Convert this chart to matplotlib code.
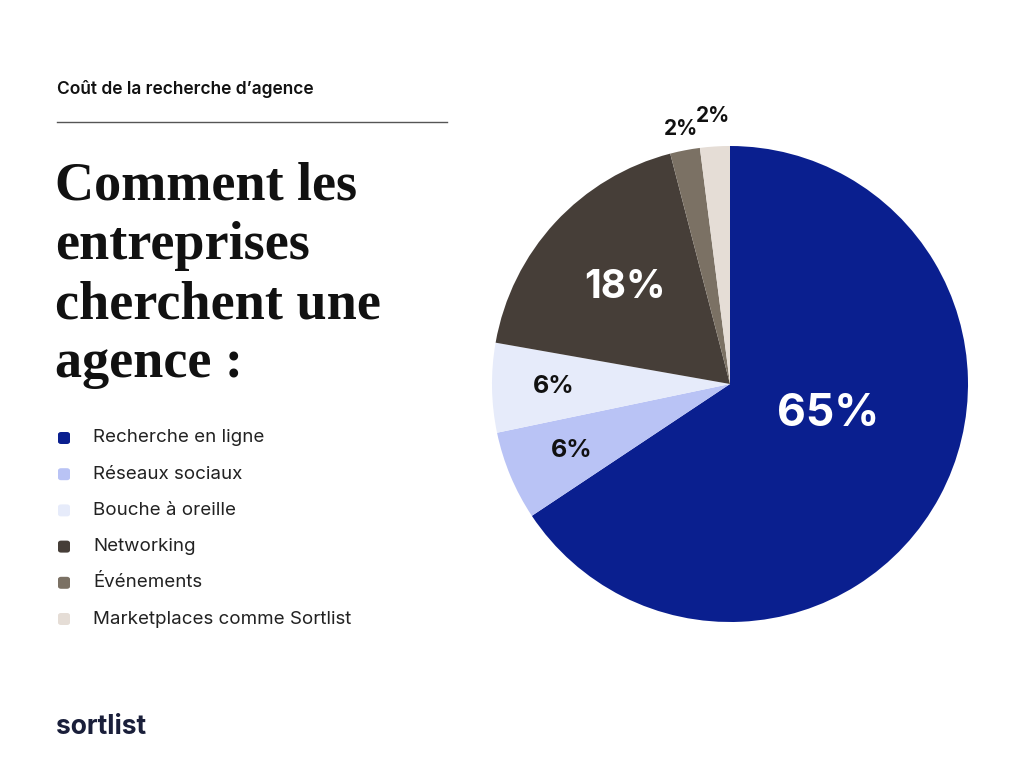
import numpy as np
import matplotlib.pyplot as plt
from matplotlib.patches import FancyBboxPatch

categories = ["Recherche en ligne", "Réseaux sociaux", "Bouche à oreille",
              "Networking", "Événements", "Marketplaces comme Sortlist"]
values = [65, 6, 6, 18, 2, 2]
labels = ["65%", "6%", "6%", "18%", "2%", "2%"]
colors = ["#0a1f8f", "#b9c3f5", "#e6ebfa", "#463e38", "#7b7164", "#e5ddd6"]
label_dist = [0.43, 0.72, 0.74, 0.6, 1.09, 1.13]
label_shift = [11, 0, 0, 0, 0, 0]  # degrees, nudge toward the reference spot
label_size = [32, 18, 18, 28, 15, 15]
label_color = ["white", "#111111", "#111111", "white", "#111111", "#111111"]

W, H = 1024, 768
fig = plt.figure(figsize=(W / 100, H / 100), dpi=100)
fig.patch.set_facecolor("white")

# pie axes: center (730, 384), radius 238 px
cx, cy, r = 730, 384, 238
ax = fig.add_axes([(cx - r) / W, (H - cy - r) / H, 2 * r / W, 2 * r / H])
wedges, _ = ax.pie(values, colors=colors, startangle=90, counterclock=False,
                   wedgeprops=dict(linewidth=0))
for w, lab, d, sh, s, c in zip(wedges, labels, label_dist, label_shift,
                               label_size, label_color):
    ang = np.deg2rad((w.theta1 + w.theta2) / 2 + sh)
    ax.text(d * np.cos(ang), d * np.sin(ang), lab, ha="center", va="center",
            fontsize=s, fontweight="bold", color=c, family="Inter")
ax.set_xlim(-1, 1)
ax.set_ylim(-1, 1)
ax.set_aspect("equal")
ax.axis("off")


def px(x, y):
    return x / W, 1 - y / H


fig.text(*px(57, 89), "Coût de la recherche d’agence", fontsize=12.5,
         fontweight="semibold", family="Inter", va="center", color="#111111")
fig.add_artist(plt.Line2D([57 / W, 447 / W], [1 - 122 / H] * 2,
                          color="#555555", linewidth=1))

title_lines = ["Comment les", "entreprises", "cherchent une", "agence :"]
for i, line in enumerate(title_lines):
    fig.text(*px(55, 187 + i * 59), line, fontsize=39, fontweight="bold",
             family="Liberation Serif", va="center", color="#111111")

for i, (cat, col) in enumerate(zip(categories, colors)):
    y = 438 + i * 36.2
    fig.add_artist(FancyBboxPatch((58 / W, 1 - (y + 6) / H), 12 / W, 12 / H,
                                  boxstyle="round,pad=0,rounding_size=0.003",
                                  transform=fig.transFigure, facecolor=col,
                                  edgecolor="none"))
    fig.text(*px(93, y), cat, fontsize=13.5, family="Inter", va="center",
             color="#222222")

fig.text(*px(56, 727), "sortlist", fontsize=19, fontweight="bold",
         family="Inter", va="center", color="#1a1f3a")

fig.savefig("out.png", dpi=100)
